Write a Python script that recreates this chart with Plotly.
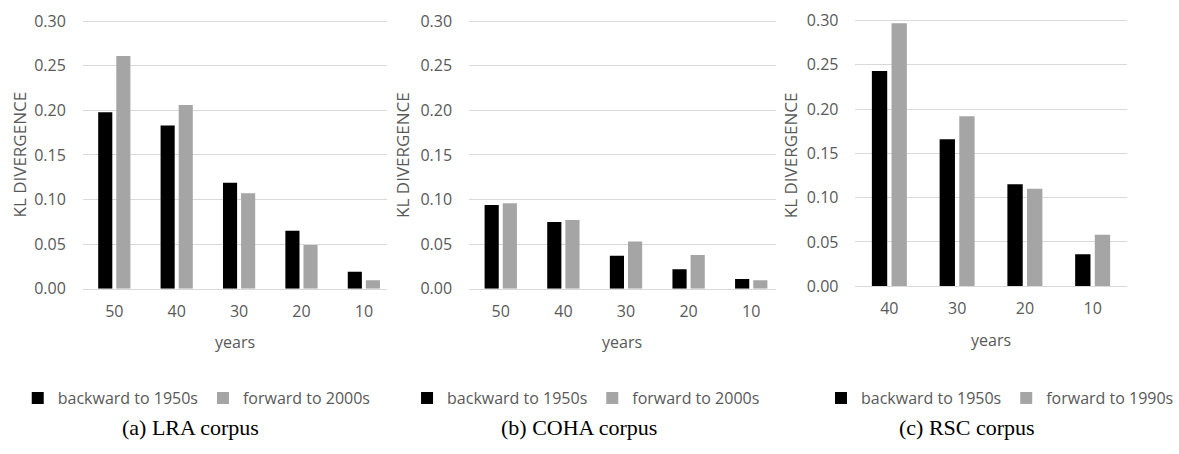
import plotly.graph_objects as go

# KL divergence between decade slices, three corpora
lra_years = ["50", "40", "30", "20", "10"]
lra_backward = [0.198, 0.183, 0.119, 0.065, 0.019]
lra_forward = [0.261, 0.206, 0.107, 0.049, 0.0096]

coha_years = ["50", "40", "30", "20", "10"]
coha_backward = [0.094, 0.075, 0.037, 0.022, 0.011]
coha_forward = [0.096, 0.077, 0.053, 0.038, 0.0095]

rsc_years = ["40", "30", "20", "10"]
rsc_backward = [0.243, 0.166, 0.115, 0.036]
rsc_forward = [0.297, 0.192, 0.110, 0.058]

panels = [
    dict(years=lra_years, back=lra_backward, fwd=lra_forward,
         back_name="backward to 1950s", fwd_name="forward to 2000s",
         caption="(a) LRA corpus"),
    dict(years=coha_years, back=coha_backward, fwd=coha_forward,
         back_name="backward to 1950s", fwd_name="forward to 2000s",
         caption="(b) COHA corpus"),
    dict(years=rsc_years, back=rsc_backward, fwd=rsc_forward,
         back_name="backward to 1950s", fwd_name="forward to 1990s",
         caption="(c) RSC corpus"),
]

W, H = 1179, 454
BLACK = "#000000"
GREY = "#a5a5a5"
GRID = "#d9d9d9"
TEXT = "#595959"
FONT = "Open Sans"
YMAX = 0.303  # headroom so the 0.30 gridline sits inside the plot area

# pixel geometry of each plot area at y=0.30 / y=0: (left, right, top, bottom)
boxes = [(84, 393, 12.7, 292.7), (476, 787, 12.7, 292.7), (868, 1143, 12, 290)]
xranges = [[-0.505, 4.376], [-0.505, 4.39], [-0.5, 3.5]]
ytitle_x = [20, 409, 802]
legend_x = [18, 413, 833]
caption_x = [193, 587, 981]
LEGEND_Y = 407
CAPTION_Y = 438

fig = go.Figure()
annotations = []
for i, p in enumerate(panels):
    n = "" if i == 0 else str(i + 1)
    leg = "legend" + n
    fig.add_trace(go.Bar(x=p["years"], y=p["back"], name=p["back_name"],
                         marker=dict(color=BLACK, line=dict(width=0)),
                         xaxis="x" + n, yaxis="y" + n, legend=leg))
    fig.add_trace(go.Bar(x=p["years"], y=p["fwd"], name=p["fwd_name"],
                         marker=dict(color=GREY, line=dict(width=0)),
                         xaxis="x" + n, yaxis="y" + n, legend=leg))
    l, r, t, b = boxes[i]
    top = b - (b - t) * YMAX / 0.3
    fig.update_layout(**{
        "xaxis" + n: dict(domain=[l / W, r / W], anchor="y" + n, type="category",
                          range=xranges[i], showgrid=False, zeroline=False,
                          showline=True, linecolor=GRID, linewidth=1,
                          ticks="", ticklabelstandoff=8,
                          tickfont=dict(family=FONT, size=16, color=TEXT)),
        "yaxis" + n: dict(domain=[1 - b / H, 1 - top / H], anchor="x" + n,
                          range=[0, YMAX], tick0=0, dtick=0.05, tickformat=".2f",
                          showgrid=True, gridcolor=GRID, gridwidth=1,
                          zeroline=False, showline=False, ticks="",
                          ticklabelstandoff=16,
                          tickfont=dict(family=FONT, size=16, color=TEXT)),
        leg: dict(orientation="h", x=legend_x[i] / W, xanchor="left",
                  y=1 - LEGEND_Y / H, yanchor="middle",
                  font=dict(family=FONT, size=16, color=TEXT),
                  bgcolor="rgba(0,0,0,0)", traceorder="normal"),
    })
    # axis titles
    annotations.append(dict(text="years", xref="paper", yref="paper",
                            x=(l + r) / 2 / W, y=1 - (b + 56) / H,
                            xanchor="center", yanchor="middle", showarrow=False,
                            font=dict(family=FONT, size=16, color=TEXT)))
    annotations.append(dict(text="KL DIVERGENCE", xref="paper", yref="paper",
                            x=ytitle_x[i] / W, y=1 - 152.5 / H, textangle=-90,
                            xanchor="center", yanchor="middle", showarrow=False,
                            font=dict(family=FONT, size=17, color=TEXT)))
    # panel caption
    annotations.append(dict(text=p["caption"], xref="paper", yref="paper",
                            x=caption_x[i] / W, y=1 - CAPTION_Y / H,
                            xanchor="center", yanchor="middle", showarrow=False,
                            font=dict(family="Liberation Serif", size=22,
                                      color="#000000")))

fig.update_layout(width=W, height=H, margin=dict(l=0, r=0, t=0, b=0),
                  paper_bgcolor="white", plot_bgcolor="white",
                  barmode="group", bargap=0.42, bargroupgap=0.22,
                  annotations=annotations)

fig.write_html("out.html")
